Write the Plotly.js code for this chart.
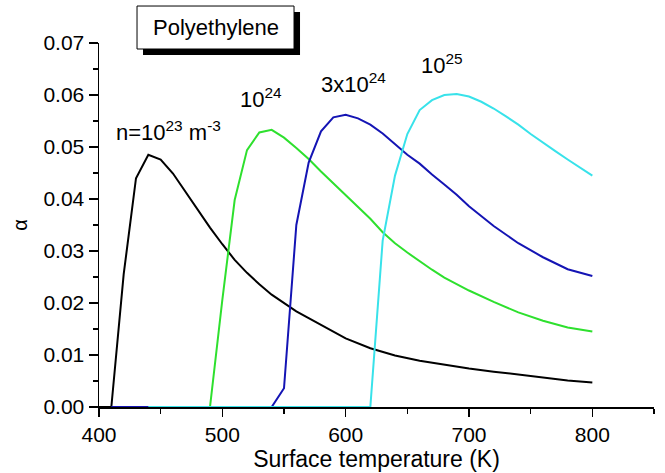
<!DOCTYPE html>
<html>
<head>
<meta charset="utf-8">
<script src="https://cdn.plot.ly/plotly-3.0.1.min.js"></script>
<style>html,body{margin:0;padding:0;background:#fff;}#chart{width:665px;height:473px;}</style>
</head>
<body>
<div id="chart"></div>
<script>
// n = 1e23 m^-3 (black)
const xBlack = [400, 410, 420, 430, 440, 450, 460, 470, 480, 490, 500, 510, 520, 530, 540, 550, 560, 570, 580, 590, 600, 620, 640, 660, 680, 700, 720, 740, 760, 780, 800];
const yBlack = [0, 0, 0.0255, 0.044, 0.0485, 0.0476, 0.0449, 0.0414, 0.0378, 0.0345, 0.0313, 0.0283, 0.0258, 0.0236, 0.0216, 0.0200, 0.0184, 0.0171, 0.0158, 0.0145, 0.0132, 0.0113, 0.0099, 0.0089, 0.0081, 0.0074, 0.0068, 0.0062, 0.0056, 0.0051, 0.0047];
// n = 1e24 (green)
const xGreen = [430, 490, 500, 510, 520, 530, 540, 550, 560, 570, 580, 590, 600, 610, 620, 630, 640, 650, 660, 670, 680, 690, 700, 720, 740, 760, 780, 800];
const yGreen = [0, 0, 0.0206, 0.0398, 0.0494, 0.0528, 0.0533, 0.0518, 0.0498, 0.0477, 0.0453, 0.0430, 0.0406, 0.0384, 0.0362, 0.0336, 0.0315, 0.0297, 0.0280, 0.0264, 0.0249, 0.0236, 0.0224, 0.0202, 0.0182, 0.0166, 0.0153, 0.0145];
// n = 3e24 (blue)
const xBlue = [410, 540, 550, 560, 570, 580, 590, 600, 610, 620, 630, 640, 650, 660, 670, 680, 690, 700, 720, 740, 760, 780, 800];
const yBlue = [0, 0, 0.0036, 0.0350, 0.0470, 0.0530, 0.0557, 0.0562, 0.0555, 0.0543, 0.0526, 0.0505, 0.0485, 0.0468, 0.0447, 0.0428, 0.0408, 0.0386, 0.0348, 0.0315, 0.0288, 0.0265, 0.0252];
// n = 1e25 (cyan)
const xCyan = [440, 620, 630, 640, 650, 660, 670, 680, 690, 700, 710, 720, 730, 740, 750, 760, 770, 780, 790, 800];
const yCyan = [0, 0, 0.0320, 0.0445, 0.0525, 0.0571, 0.0590, 0.0600, 0.0602, 0.0597, 0.0587, 0.0574, 0.0559, 0.0543, 0.0525, 0.0508, 0.0492, 0.0476, 0.0460, 0.0445];

const seriesLabels = ['n=10<sup>23</sup> m<sup>-3</sup>', '10<sup>24</sup>', '3x10<sup>24</sup>', '10<sup>25</sup>'];
const labelX = [456, 531.7, 606, 678.3];
const labelY = [0.0530, 0.0594, 0.0624, 0.0659];
const colors = ['#000000', '#2ee02e', '#1414b4', '#38e2ea'];

const xs = [xBlack, xGreen, xBlue, xCyan];
const ys = [yBlack, yGreen, yBlue, yCyan];

const font = 'Arial, "Liberation Sans", sans-serif';

const traces = xs.map((x, i) => ({
  x: x, y: ys[i], type: 'scatter', mode: 'lines',
  line: {color: colors[i], width: 2},
  hoverinfo: 'none', showlegend: false
}));

const annotations = seriesLabels.map((t, i) => ({
  x: labelX[i], y: labelY[i], xref: 'x', yref: 'y', text: t, showarrow: false,
  font: {family: font, size: 22, color: '#000'}, xanchor: 'center', yanchor: 'middle'
}));
annotations.push({
  x: 0.21, y: 1.042, xref: 'paper', yref: 'paper', text: 'Polyethylene', showarrow: false,
  font: {family: font, size: 22, color: '#000'}, xanchor: 'center', yanchor: 'middle'
});

const layout = {
  width: 665, height: 473,
  margin: {l: 99, r: 11, t: 43, b: 66, pad: 0},
  paper_bgcolor: '#fff', plot_bgcolor: '#fff',
  font: {family: font, color: '#000'},
  xaxis: {
    range: [400, 850], dtick: 100, tick0: 400,
    showgrid: false, zeroline: false, showline: true, linecolor: '#000', linewidth: 1.5,
    ticks: 'outside', ticklen: 8, tickwidth: 1.5, tickcolor: '#000',
    minor: {dtick: 50, ticks: 'outside', ticklen: 5, tickwidth: 1.5, tickcolor: '#000', showgrid: false},
    tickfont: {family: font, size: 21, color: '#000'},
    title: {text: 'Surface temperature (K)', font: {family: font, size: 23, color: '#000'}, standoff: 4},
    automargin: false, fixedrange: true
  },
  yaxis: {
    range: [0, 0.07], dtick: 0.01, tick0: 0, tickformat: '.2f',
    showgrid: false, zeroline: false, showline: true, linecolor: '#000', linewidth: 1.5,
    ticks: 'outside', ticklen: 9, tickwidth: 1.5, tickcolor: '#000',
    minor: {dtick: 0.005, ticks: 'outside', ticklen: 5, tickwidth: 1.5, tickcolor: '#000', showgrid: false},
    tickfont: {family: font, size: 21, color: '#000'},
    title: {text: 'α', font: {family: font, size: 20, color: '#000'}, standoff: 10},
    automargin: false, fixedrange: true
  },
  shapes: [
    {type: 'rect', xref: 'paper', yref: 'paper', x0: 0.0793, x1: 0.3622, y0: 0.967, y1: 1.085,
     fillcolor: '#000', line: {width: 0}, layer: 'above'},
    {type: 'rect', xref: 'paper', yref: 'paper', x0: 0.0685, x1: 0.3514, y0: 0.9835, y1: 1.1016,
     fillcolor: '#fff', line: {color: '#000', width: 1}, layer: 'above'}
  ],
  annotations: annotations
};

Plotly.newPlot('chart', traces, layout, {displayModeBar: false, staticPlot: true});
</script>
</body>
</html>
